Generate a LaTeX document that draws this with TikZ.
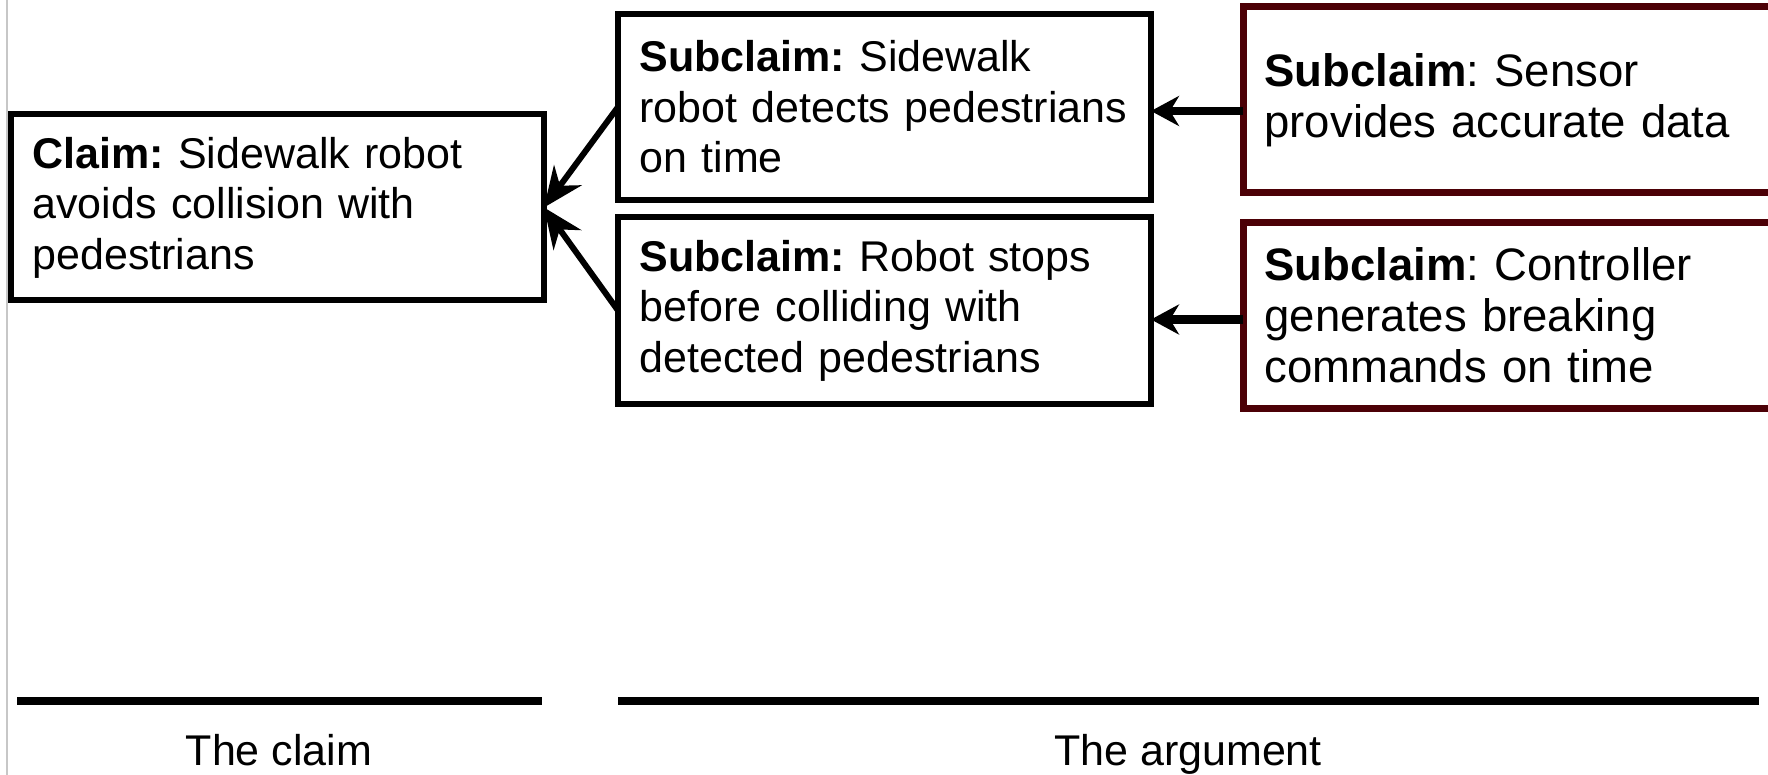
\documentclass[tikz,border=0pt]{standalone}
\usepackage{fontspec}
\setmainfont{Liberation Sans}
\usepackage{xcolor}
\usepackage{tikz}
\usetikzlibrary{arrows.meta}
\frenchspacing

\definecolor{darkmaroon}{RGB}{76,0,6}

\begin{document}
\begin{tikzpicture}[x=1pt,y=-1pt]

                % claim on the left, the argument on the right
                \edef\boxwidth{533pt}
                \edef\boxheight{186pt}
                \tikzstyle{claimbox}=[draw,line width=6pt,rectangle,minimum width=\boxwidth,minimum height=\boxheight,
                    text width=490pt,inner xsep=21.5pt,align=left,outer sep=0pt,
                    font=\fontsize{43}{50.5}\selectfont]
                \tikzstyle{subbox}=[claimbox,draw=darkmaroon,line width=7pt,font=\fontsize{45.5}{51}\selectfont]
                \tikzstyle{diagarrow}=[line width=6pt,-{Stealth[length=40pt,width=34pt,inset=13pt]}]
                \tikzstyle{flatarrow}=[line width=8pt,-{Stealth[length=28pt,width=30pt,inset=9pt]}]
                \tikzstyle{rule}=[line width=8pt]
                \tikzstyle{caption}=[anchor=base,font=\fontsize{43}{50}\selectfont]

                \clip (0,0) rectangle (1768,775);
                \draw[black!22,line width=1.5pt] (7,0) -- (7,775);

                \node [claimbox] (claim) at (277.5,207.5) {\textbf{Claim:} Sidewalk robot\\avoids collision with\\pedestrians};
                \node [claimbox] (detect) at (884.5,107) {\textbf{Subclaim:} Sidewalk\\robot detects pedestrians\\on time};
                \node [claimbox] (stops) at (884.5,310.5) {\textbf{Subclaim:} Robot stops\\before colliding with\\detected pedestrians};
                \node [subbox] (sensor) at (1509.5,100) {\textbf{Subclaim}: Sensor\\provides accurate data};
                \node [subbox] (control) at (1509.5,315.5) {\textbf{Subclaim}: Controller\\generates breaking\\commands on time};

                \draw[diagarrow] (detect.west) -- (claim.east);
                \draw[diagarrow] (stops.west) -- (claim.east);
                \draw[flatarrow] ([yshift=-11pt]sensor.west) -- ([yshift=-11pt]sensor.west -| detect.east);
                \draw[flatarrow] ([yshift=-4pt]control.west) -- ([yshift=-4pt]control.west -| stops.east);

                % the two parts
                \coordinate (claimL) at (17,701);
                \coordinate (claimR) at (542,701);
                \coordinate (argL) at (618,701);
                \coordinate (argR) at (1759,701);
                \draw[rule] (claimL) -- (claimR);
                \draw[rule] (argL) -- (argR);
                \node [caption] (claimlabel) at (279,765) {The claim};
                \node [caption] (arglabel) at (1188,765) {The argument};

            \end{tikzpicture}
\end{document}
